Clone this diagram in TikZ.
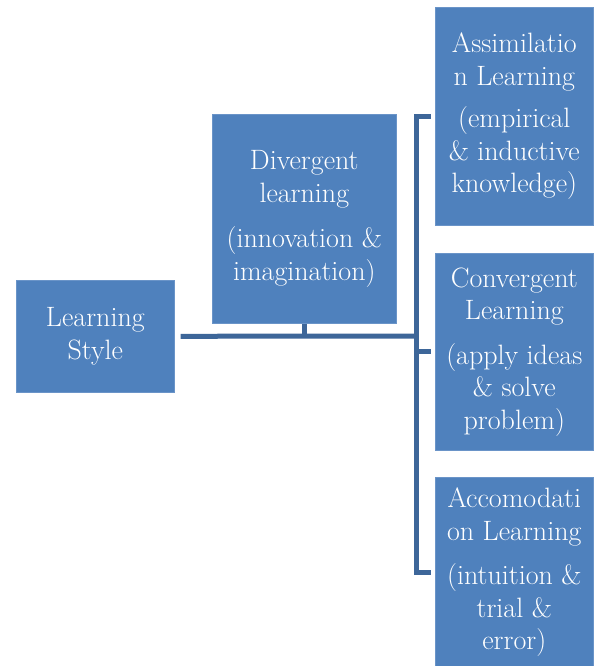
\documentclass[tikz,border=0pt]{standalone}
\usepackage{fontspec}
\definecolor{boxblue}{HTML}{4F81BD}
\definecolor{boxedge}{HTML}{6A94C8}
\definecolor{linkblue}{HTML}{3D6699}
\begin{document}
\begin{tikzpicture}[x=1pt,y=-1pt,
  card/.style={fill=boxblue,draw=boxedge,line width=0.6pt,inner sep=0pt,
    text=white,align=center,font=\rmfamily\fontsize{28}{32.5}\selectfont,anchor=north west},
  link/.style={draw=linkblue,line width=5pt}]
\useasboundingbox (0,0) rectangle (599,666);
\node[card,minimum width=158,minimum height=112] (ls) at (16,280) {Learning\\Style};
\node[card,minimum width=184,minimum height=209] (dv) at (212,114) {Divergent\\learning\\[13pt](innovation \&\\imagination)};
\node[card,minimum width=158,minimum height=218] (tr) at (435,7) {Assimilatio\\n Learning\\[10pt](empirical\\\& inductive\\knowledge)};
\node[card,minimum width=158,minimum height=197] (mr) at (435,253) {Convergent\\Learning\\[12pt](apply ideas\\\& solve\\problem)};
\node[card,minimum width=158,minimum height=190] (br) at (435,477) {Accomodati\\on Learning\\[12pt](intuition \&\\trial \&\\error)};
\coordinate (j) at (416,336);
\draw[link,shorten <=6pt] (ls.east) -- (j);
\draw[link] (dv.south) -- (dv.south |- j);
\draw[link,line cap=rect] (j |- tr.west) -- (j |- br.west);
\draw[link] (j |- tr.west) -- ([xshift=-4pt]tr.west);
\draw[link] (j |- mr.west) -- ([xshift=-4pt]mr.west);
\draw[link] (j |- br.west) -- ([xshift=-4pt]br.west);
\end{tikzpicture}
\end{document}
